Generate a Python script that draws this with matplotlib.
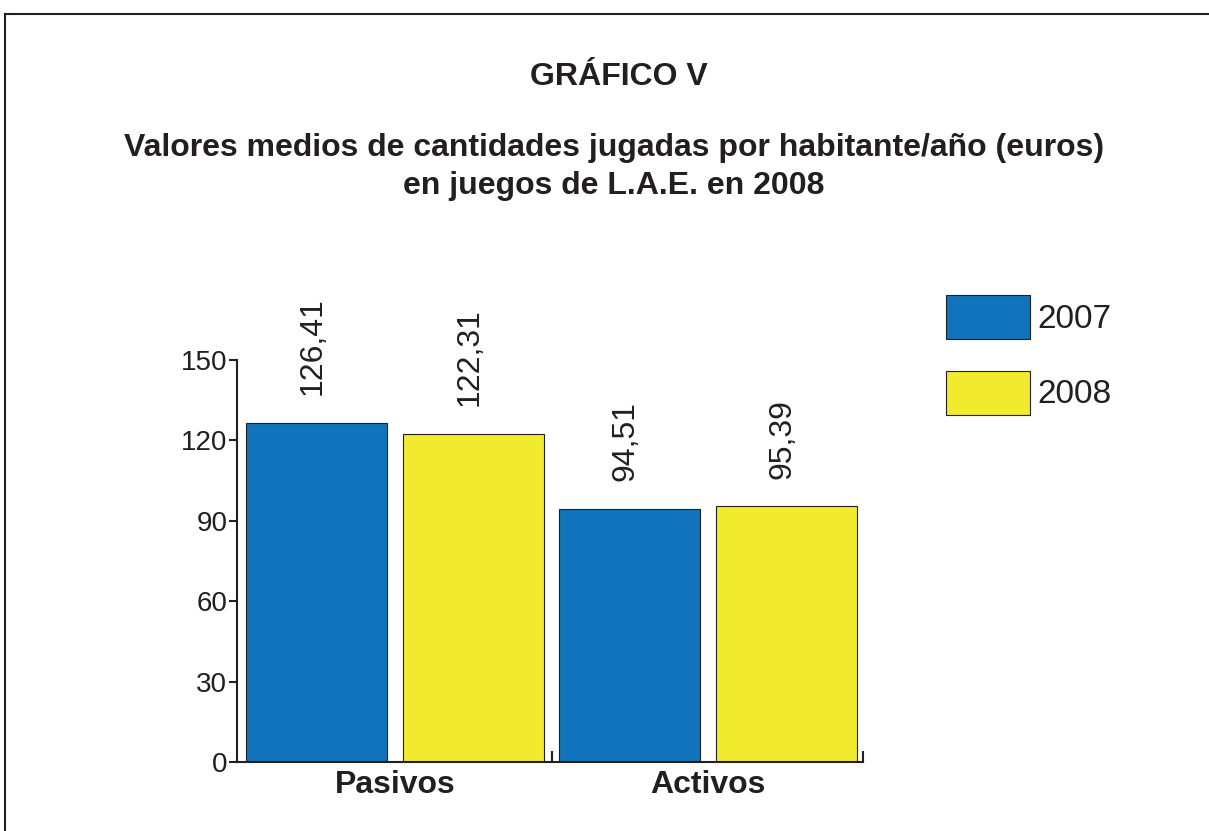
import matplotlib
matplotlib.use("Agg")
import matplotlib.pyplot as plt
from matplotlib.patches import Patch
from matplotlib.lines import Line2D

categories = ["Pasivos", "Activos"]
series_names = ["2007", "2008"]
values_2007 = [126.41, 94.51]
values_2008 = [122.31, 95.39]
value_labels_2007 = ["126,41", "94,51"]
value_labels_2008 = ["122,31", "95,39"]
yticks = [0, 30, 60, 90, 120, 150]

BLUE = "#1173bb"
YELLOW = "#f2ea2e"
DARK = "#231f20"

plt.rcParams['font.family'] = ['Liberation Sans', 'DejaVu Sans']

fig = plt.figure(figsize=(12.09, 8.31), dpi=100)
W, H = 1209, 831

# frame
fig.add_artist(Line2D([5 / W, 1.0], [1 - 14 / H, 1 - 14 / H], color=DARK, lw=1.5, transform=fig.transFigure))
fig.add_artist(Line2D([5 / W, 5 / W], [1 - 14 / H, 0], color=DARK, lw=1.5, transform=fig.transFigure))

fig.text(0.512, 1 - 77 / H, "GRÁFICO V", ha='center', va='center', fontsize=23, fontweight='bold', color=DARK)
fig.text(0.508, 1 - 167 / H, "Valores medios de cantidades jugadas por habitante/año (euros)\nen juegos de L.A.E. en 2008",
         ha='center', va='center', fontsize=23, fontweight='bold', color=DARK, linespacing=1.35)

ax = fig.add_axes([237 / W, 1 - 762 / H, (863 - 237) / W, (762 - 360) / H])

xs_2007 = [0, 2]
xs_2008 = [1, 3]
bw = 0.90
ax.bar(xs_2007, values_2007, width=bw, color=BLUE, edgecolor=DARK, linewidth=0.8)
ax.bar(xs_2008, values_2008, width=bw, color=YELLOW, edgecolor=DARK, linewidth=0.8)

for x, v, lab in zip(xs_2007 + xs_2008, values_2007 + values_2008, value_labels_2007 + value_labels_2008):
    ax.annotate(lab, (x, v), xytext=(-3, 20), textcoords='offset points', rotation=90,
                ha='center', va='bottom', fontsize=23, color=DARK, annotation_clip=False)

ax.set_xlim(-0.51, 3.49)
ax.set_ylim(0, 150)
ax.set_yticks(yticks)
ax.set_yticklabels([str(t) for t in yticks], fontsize=20, color=DARK)
ax.tick_params(axis='y', direction='out', length=6, width=1.5, color=DARK, pad=1)

ax.set_xticks([0.5, 2.5])
ax.set_xticklabels(categories, fontsize=23, fontweight='bold', color=DARK)
ax.tick_params(axis='x', which='major', length=0, pad=6)
ax.set_xticks([1.5, 3.49], minor=True)
ax.tick_params(axis='x', which='minor', direction='in', length=8, width=1.5, color=DARK)

for s in ['top', 'right']:
    ax.spines[s].set_visible(False)
for s in ['left', 'bottom']:
    ax.spines[s].set_color(DARK)
    ax.spines[s].set_linewidth(1.5)

handles = [Patch(facecolor=BLUE, edgecolor=DARK, linewidth=0.8),
           Patch(facecolor=YELLOW, edgecolor=DARK, linewidth=0.8)]
leg = fig.legend(handles, series_names, loc='upper left', bbox_to_anchor=(946 / W, 1 - 295 / H),
                 frameon=False, fontsize=24, handlelength=2.52, handleheight=1.65,
                 labelspacing=0.95, handletextpad=0.22, borderaxespad=0, borderpad=0)
for t in leg.get_texts():
    t.set_color(DARK)

fig.savefig("out.png", dpi=100)
